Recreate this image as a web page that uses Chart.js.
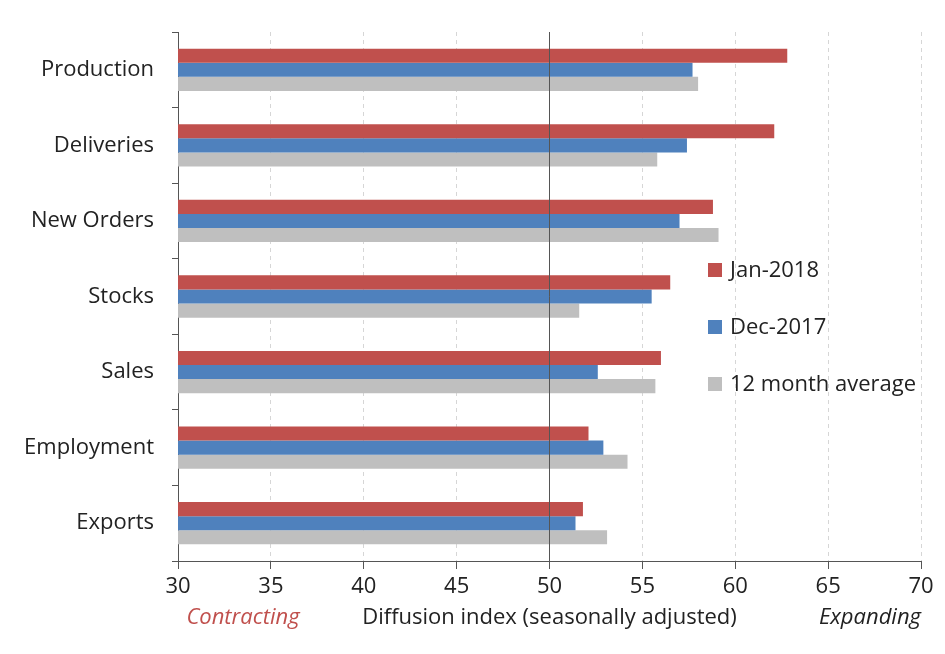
<!DOCTYPE html>
<html lang="en">
<head>
    <meta charset="UTF-8">
    <title>Diffusion index</title>
    <script src="https://cdn.jsdelivr.net/npm/chart.js@4.4.1/dist/chart.umd.min.js"></script>
    <style>
        body {
            margin: 0;
            background: #ffffff;
        }

        .chart-container {
            position: relative;
            width: 945px;
            height: 654px;
        }
    </style>
</head>
<body>

    <div class="chart-container">
        <canvas id="chart"></canvas>
    </div>

<script>

var categories = ["Production", "Deliveries", "New Orders", "Stocks", "Sales", "Employment", "Exports"];

var jan2018 = [62.8, 62.1, 58.8, 56.5, 56.0, 52.1, 51.8];
var dec2017 = [57.7, 57.4, 57.0, 55.5, 52.6, 52.9, 51.4];
var avg12m  = [58.0, 55.8, 59.1, 51.6, 55.7, 54.2, 53.1];

var xTicks = [30, 35, 40, 45, 50, 55, 60, 65, 70];

var fontFamily = "'Open Sans', sans-serif";
var textColor = '#222222';
var fontSize = 22;

// line at 50 (no change) drawn over the bars
var fiftyLine = {
    id: 'fiftyLine',
    afterDatasetsDraw(chart) {
        var ctx = chart.ctx;
        var x = chart.scales.x.getPixelForValue(50);
        ctx.save();
        ctx.strokeStyle = '#555555';
        ctx.lineWidth = 1;
        ctx.beginPath();
        ctx.moveTo(x, chart.chartArea.top);
        ctx.lineTo(x, chart.chartArea.bottom);
        ctx.stroke();
        ctx.restore();
    }
};

// legend in the right part of the plot + the texts under the axis
var extras = {
    id: 'extras',
    afterDraw(chart) {
        var ctx = chart.ctx;
        var area = chart.chartArea;
        ctx.save();

        var lx = 708, ly = 270;
        chart.data.datasets.forEach((ds, i) => {
            var y = ly + i * 57;
            ctx.fillStyle = ds.backgroundColor;
            ctx.fillRect(lx, y - 7, 14, 14);
            ctx.fillStyle = textColor;
            ctx.font = fontSize + 'px ' + fontFamily;
            ctx.textAlign = 'left';
            ctx.textBaseline = 'middle';
            ctx.fillText(ds.label, lx + 22, y + 1);
        });

        var by = 618;
        ctx.textBaseline = 'middle';
        ctx.font = 'italic ' + fontSize + 'px ' + fontFamily;
        ctx.fillStyle = '#C0504D';
        ctx.textAlign = 'center';
        ctx.fillText('Contracting', 243, by);

        ctx.fillStyle = textColor;
        ctx.textAlign = 'right';
        ctx.fillText('Expanding', area.right, by);

        ctx.font = fontSize + 'px ' + fontFamily;
        ctx.textAlign = 'center';
        ctx.fillText('Diffusion index (seasonally adjusted)', chart.scales.x.getPixelForValue(50), by);
        ctx.restore();
    }
};

var ctx = document.getElementById('chart').getContext('2d');

var chart = new Chart(ctx, {
    type: 'bar',
    data: {
        labels: categories,
        datasets: [
            {
                label: 'Jan-2018',
                data: jan2018,
                backgroundColor: '#C0504D',
            },
            {
                label: 'Dec-2017',
                data: dec2017,
                backgroundColor: '#4F81BD',
            },
            {
                label: '12 month average',
                data: avg12m,
                backgroundColor: '#BFBFBF',
            },
        ]
    },
    options: {
        indexAxis: 'y',
        responsive: true,
        maintainAspectRatio: false,
        animation: false,
        datasets: {
            bar: {
                barPercentage: 1.0,
                categoryPercentage: 0.56,
                borderWidth: 0,
            }
        },
        layout: {
            padding: { top: 32, right: 24, bottom: 0, left: 0 }
        },
        plugins: {
            legend: { display: false },
            tooltip: { enabled: false },
        },
        scales: {
            x: {
                min: 30,
                max: 70,
                afterBuildTicks(scale) {
                    scale.ticks = xTicks.map(v => ({ value: v }));
                },
                afterFit(scale) {
                    scale.height = 93;
                },
                grid: {
                    color: '#D6D6D6',
                    lineWidth: 1,
                    tickLength: 8,
                    tickColor: '#555555',
                },
                border: {
                    display: true,
                    color: '#555555',
                    dash: [4, 4],
                },
                ticks: {
                    color: textColor,
                    padding: 5,
                    font: { family: fontFamily, size: fontSize },
                },
            },
            y: {
                afterFit(scale) {
                    scale.width = 178;
                },
                grid: {
                    offset: true,
                    drawOnChartArea: false,
                    tickLength: 6,
                    tickColor: '#555555',
                },
                border: {
                    display: true,
                    color: '#555555',
                },
                ticks: {
                    color: textColor,
                    padding: 18,
                    font: { family: fontFamily, size: fontSize },
                },
            },
        },
    },
    plugins: [fiftyLine, extras],
});

</script>

</body>
</html>
